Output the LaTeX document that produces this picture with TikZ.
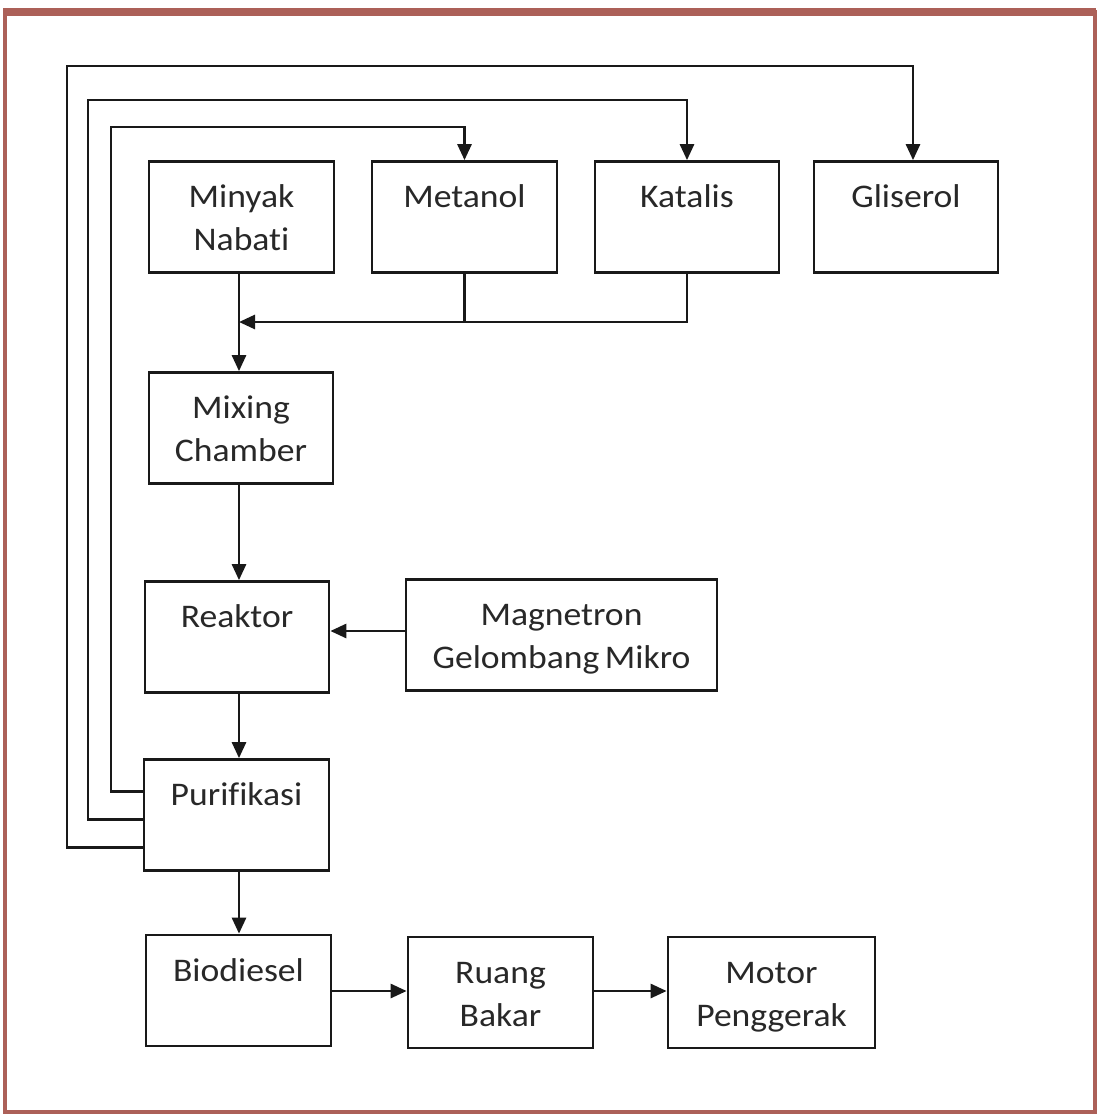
\documentclass[tikz,border=0pt]{standalone}
\usepackage{fontspec}
\setmainfont{Carlito}[FakeStretch=1.08,Ligatures=NoCommon]
\usetikzlibrary{arrows.meta,calc}
\definecolor{frame}{RGB}{172,96,88}
\definecolor{ink}{RGB}{25,25,25}
\definecolor{txt}{RGB}{40,40,40}
\newcommand{\btext}[2]{\parbox[c][111pt][t]{#1}{\centering\fontsize{33}{43}\selectfont\color{txt}\rule{0pt}{46pt}#2}}
\tikzset{
  box/.style={draw=ink, line width=2.7pt, inner sep=0pt, fill=white},
  wire/.style={draw=ink, line width=2.7pt},
  arr/.style={draw=ink, line width=2.7pt, -{Triangle[length=16pt,width=14pt]}},
}
\begin{document}
\begin{tikzpicture}[x=1pt,y=-1pt]
\useasboundingbox (0,0) rectangle (1098,1116);
\fill[white] (0,0) rectangle (1098,1116);
% frame
\draw[frame, line width=4pt] (5,12) rectangle (1094.5,1112);
\fill[frame] (3,8) rectangle (1096,16);

% boxes
\node[box] (minyak)    at (241.5,217) {\btext{185pt}{Minyak\\Nabati}};
\node[box] (metanol)   at (464.5,217) {\btext{185pt}{Metanol}};
\node[box] (katalis)   at (687,217)   {\btext{184pt}{Katalis}};
\node[box] (gliserol)  at (906,217)   {\btext{184pt}{Gliserol}};
\node[box] (mixing)    at (241,428)   {\btext{184pt}{Mixing\\Chamber}};
\node[box] (reaktor)   at (237,637)   {\btext{184pt}{Reaktor}};
\node[box] (magnetron) at (561.5,635) {\btext{311pt}{Magnetron\\Gelombang\,Mikro}};
\node[box] (purifikasi) at (236.5,815) {\btext{185pt}{Purifikasi}};
\node[box] (biodiesel) at (238.5,990.5) {\btext{185pt}{Biodiesel}};
\node[box] (ruang)     at (500.5,992.5) {\btext{185pt}{Ruang\\Bakar}};
\node[box] (motor)     at (771.5,992.5) {\btext{207pt}{Motor\\Penggerak}};

% helper coordinates
\coordinate (trunk) at (239,0);
\coordinate (merge) at (239,322);
\coordinate (rowm) at (0,631);
\coordinate (rowb) at (0,991);
\coordinate (p1) at ($(purifikasi.north west)+(0,33)$);
\coordinate (p2) at ($(purifikasi.north west)+(0,61)$);
\coordinate (p3) at ($(purifikasi.north west)+(0,89)$);
\coordinate (c1) at (111,127);
\coordinate (c2) at (88,100);
\coordinate (c3) at (67,66);
\coordinate (g3) at (913,66);

% main flow
\draw[arr] (minyak.south -| trunk) -- (mixing.north -| trunk);
\draw[arr] (katalis.south) |- (merge);
\draw[wire] (metanol.south) -- (metanol.south |- merge);
\draw[arr] (mixing.south -| trunk) -- (reaktor.north -| trunk);
\draw[arr] (reaktor.south -| trunk) -- (purifikasi.north -| trunk);
\draw[arr] (purifikasi.south -| trunk) -- (biodiesel.north -| trunk);
\draw[arr] (magnetron.west |- rowm) -- (reaktor.east |- rowm);
\draw[arr] (biodiesel.east |- rowb) -- (ruang.west |- rowb);
\draw[arr] (ruang.east |- rowb) -- (motor.west |- rowb);

% recycle loops
\draw[arr] (p1) -| (c1) -| (metanol.north);
\draw[arr] (p2) -| (c2) -| (katalis.north);
\draw[arr] (p3) -| (c3) -- (g3) -- (g3 |- gliserol.north);
\end{tikzpicture}
\end{document}
